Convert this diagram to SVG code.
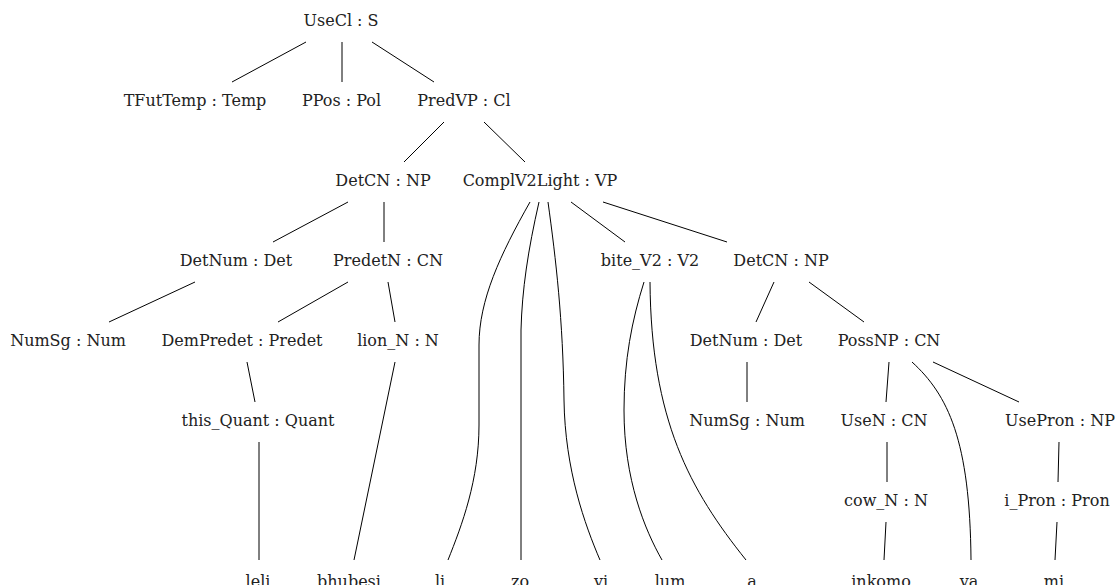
<svg xmlns="http://www.w3.org/2000/svg" width="1115" height="585" viewBox="0 0 1115 585">
<style>
text{font-family:"DejaVu Serif",serif;font-size:16px;fill:#222;text-anchor:middle}
.e line,.e path{stroke:#000;stroke-width:1;fill:none}
</style>
<rect width="1115" height="585" fill="#fff"/>
<g class="e" id="connectors">
<line x1="306" y1="42" x2="232" y2="82"/>
<line x1="342" y1="42" x2="342" y2="82"/>
<line x1="372" y1="42" x2="434" y2="82"/>
<line x1="444" y1="122" x2="404" y2="162"/>
<line x1="484" y1="122" x2="525" y2="162"/>
<line x1="348" y1="202" x2="273" y2="242"/>
<line x1="384" y1="202" x2="384" y2="242"/>
<line x1="571" y1="202" x2="625" y2="242"/>
<line x1="603" y1="202" x2="727" y2="242"/>
<line x1="195" y1="282" x2="109" y2="322"/>
<line x1="348" y1="282" x2="278" y2="322"/>
<line x1="388" y1="282" x2="395" y2="322"/>
<line x1="774" y1="282" x2="756" y2="322"/>
<line x1="809" y1="282" x2="864" y2="322"/>
<line x1="247" y1="362" x2="255" y2="402"/>
<line x1="395" y1="362" x2="354" y2="560"/>
<line x1="747" y1="362" x2="747" y2="402"/>
<line x1="889" y1="362" x2="886" y2="402"/>
<line x1="933" y1="362" x2="1019" y2="402"/>
<line x1="259" y1="442" x2="259" y2="560"/>
<line x1="887" y1="442" x2="887" y2="482"/>
<line x1="1059" y1="442" x2="1058" y2="482"/>
<line x1="886" y1="522" x2="884" y2="560"/>
<line x1="1057" y1="522" x2="1055" y2="560"/>
<path d="M530,202 C500,255 479,300 479,345 L479,425 C479,480 462,525 448,560"/>
<path d="M539,202 C528,250 522,290 521,330 L521,560"/>
<path d="M548,202 C556,260 563,320 564,400 C565,470 585,525 600,560"/>
<path d="M644,282 C632,320 624,360 624,410 C624,480 645,530 662,560"/>
<path d="M650,282 C651,420 690,490 746,560"/>
<path d="M912,362 C948,395 970,440 971,560"/>
</g>
<g id="n-usecl"><text x="341" y="26">UseCl : S</text></g>
<g id="n-tfuttemp"><text x="195" y="106">TFutTemp : Temp</text></g>
<g id="n-ppos"><text x="341.5" y="106">PPos : Pol</text></g>
<g id="n-predvp"><text x="464" y="106">PredVP : Cl</text></g>
<g id="n-detcn1"><text x="383" y="186">DetCN : NP</text></g>
<g id="n-complv2light"><text x="540" y="186">ComplV2Light : VP</text></g>
<g id="n-detnum1"><text x="236" y="266">DetNum : Det</text></g>
<g id="n-predetn"><text x="388" y="266">PredetN : CN</text></g>
<g id="n-bitev2"><text x="650" y="266">bite_V2 : V2</text></g>
<g id="n-detcn2"><text x="781" y="266">DetCN : NP</text></g>
<g id="n-numsg1"><text x="68" y="346">NumSg : Num</text></g>
<g id="n-dempredet"><text x="242" y="346">DemPredet : Predet</text></g>
<g id="n-lionn"><text x="398" y="346">lion_N : N</text></g>
<g id="n-detnum2"><text x="746" y="346">DetNum : Det</text></g>
<g id="n-possnp"><text x="889" y="346">PossNP : CN</text></g>
<g id="n-thisquant"><text x="258" y="426">this_Quant : Quant</text></g>
<g id="n-numsg2"><text x="747" y="426">NumSg : Num</text></g>
<g id="n-usen"><text x="884" y="426">UseN : CN</text></g>
<g id="n-usepron"><text x="1060" y="426">UsePron : NP</text></g>
<g id="n-cown"><text x="886" y="506">cow_N : N</text></g>
<g id="n-ipron"><text x="1057" y="506">i_Pron : Pron</text></g>
<g id="n-leli"><text x="258" y="587">leli</text></g>
<g id="n-bhubesi"><text x="349" y="587">bhubesi</text></g>
<g id="n-li"><text x="440" y="587">li</text></g>
<g id="n-zo"><text x="520" y="587">zo</text></g>
<g id="n-vi"><text x="601" y="587">vi</text></g>
<g id="n-lum"><text x="670" y="587">lum</text></g>
<g id="n-a"><text x="752" y="587">a</text></g>
<g id="n-inkomo"><text x="881" y="587">inkomo</text></g>
<g id="n-va"><text x="969" y="587">va</text></g>
<g id="n-mi"><text x="1054" y="587">mi</text></g>
</svg>
